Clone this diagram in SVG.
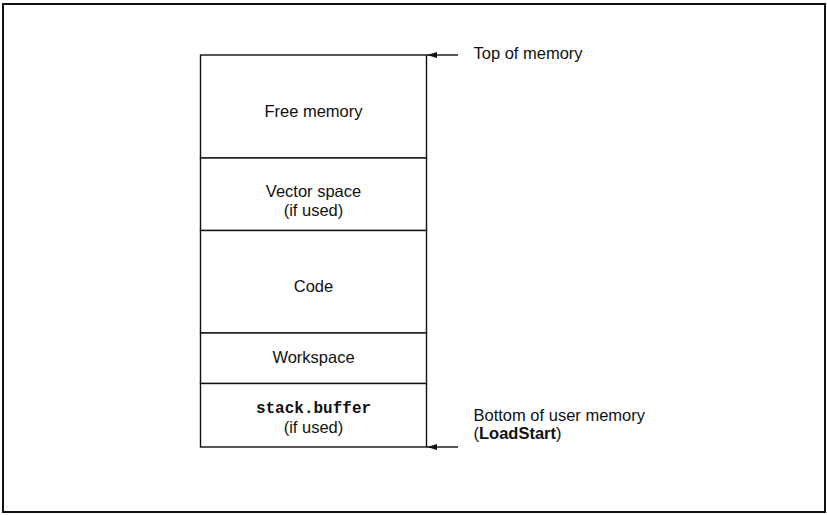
<svg xmlns="http://www.w3.org/2000/svg" width="827" height="515" viewBox="0 0 827 515">
  <style>
    .frame { fill: none; stroke: #111; stroke-width: 2; }
    .cell { fill: #fff; stroke: #111; stroke-width: 1.4; }
    .lbl { font-family: "Liberation Sans", Arial, sans-serif; font-size: 16.5px; fill: #111; }
    .mid { text-anchor: middle; }
    .mono { font-family: "Liberation Mono", "Courier New", monospace; font-size: 16px; font-weight: bold; fill: #111; }
    .conn { stroke: #111; stroke-width: 1.4; fill: none; marker-end: url(#arrow); }
  </style>
  <defs>
    <marker id="arrow" viewBox="0 0 10 6" refX="10" refY="3" markerWidth="10" markerHeight="6" markerUnits="userSpaceOnUse" orient="auto">
      <path d="M0,0 L10,3 L0,6 Z" fill="#111"/>
    </marker>
  </defs>

  <rect class="frame" x="3" y="4" width="822" height="508"/>

  <g id="free-memory">
    <rect class="cell" x="200.5" y="55" width="226" height="103"/>
    <text class="lbl mid" x="313.5" y="117">Free memory</text>
  </g>
  <g id="vector-space">
    <rect class="cell" x="200.5" y="158" width="226" height="72.5"/>
    <text class="lbl mid" x="313.5" y="197">Vector space</text>
    <text class="lbl mid" x="313.5" y="215.5">(if used)</text>
  </g>
  <g id="code">
    <rect class="cell" x="200.5" y="230.5" width="226" height="102.5"/>
    <text class="lbl mid" x="313.5" y="291.5">Code</text>
  </g>
  <g id="workspace">
    <rect class="cell" x="200.5" y="333" width="226" height="50.5"/>
    <text class="lbl mid" x="313.5" y="362.5">Workspace</text>
  </g>
  <g id="stack-buffer">
    <rect class="cell" x="200.5" y="383.5" width="226" height="63.5"/>
    <text class="mono mid" x="313.5" y="413">stack.buffer</text>
    <text class="lbl mid" x="313.5" y="432.5">(if used)</text>
  </g>

  <g id="connectors">
    <line class="conn" x1="458" y1="55" x2="427" y2="55"/>
    <line class="conn" x1="458" y1="447" x2="427" y2="447"/>
  </g>

  <g id="top-label">
    <text class="lbl" x="473.5" y="59">Top of memory</text>
  </g>
  <g id="bottom-label">
    <text class="lbl" x="473.5" y="420.5">Bottom of user memory</text>
    <text class="lbl" x="473.5" y="439">(<tspan font-weight="bold">LoadStart</tspan>)</text>
  </g>
</svg>
